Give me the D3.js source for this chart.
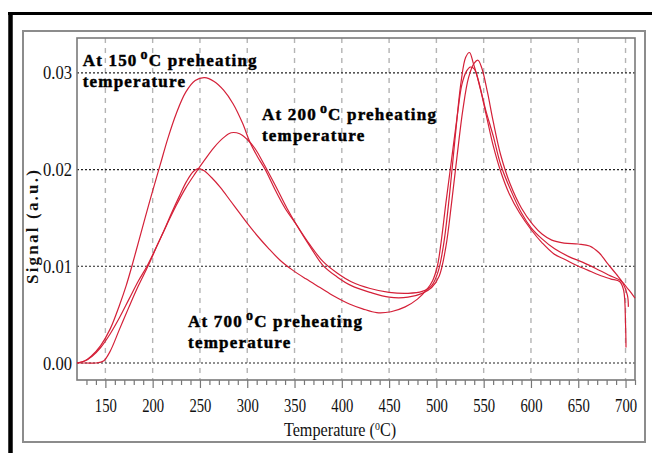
<!DOCTYPE html>
<html>
<head>
<meta charset="utf-8">
<script src="https://cdn.jsdelivr.net/npm/d3@7"></script>
<style>
  body { margin: 0; background: #fff; }
  svg { display: block; }
</style>
</head>
<body>
<div id="chart"></div>
<script>
// glow curves: temperature (°C) and signal (a.u.)
const temp150 = [120, 128, 135, 145, 155, 165, 172, 178, 185, 192, 200, 208, 216, 225, 235, 245, 255, 265, 275, 285, 295, 303, 311, 319, 330, 340, 352, 365, 380, 395, 410, 430, 450, 470, 485, 495, 502, 508, 514, 520, 526, 531, 535, 539, 545, 552, 560, 568, 578, 590, 600, 612, 625, 640, 655, 668, 682, 695, 703, 710];
const signal150 = [0, 0.0002, 0.0007, 0.0018, 0.0035, 0.0060, 0.0080, 0.0100, 0.0125, 0.0150, 0.0178, 0.0205, 0.0232, 0.0258, 0.0280, 0.0292, 0.0295, 0.0291, 0.0282, 0.0268, 0.0248, 0.0228, 0.0213, 0.0200, 0.0178, 0.0160, 0.0143, 0.0124, 0.0105, 0.0093, 0.0084, 0.0077, 0.0073, 0.0072, 0.0074, 0.0080, 0.0095, 0.0125, 0.0175, 0.0235, 0.0290, 0.0316, 0.0321, 0.0310, 0.0290, 0.0262, 0.0235, 0.0205, 0.0180, 0.0155, 0.0140, 0.0128, 0.0118, 0.0110, 0.0104, 0.0098, 0.0091, 0.0085, 0.0076, 0.0067];

const temp200 = [120, 130, 140, 148, 155, 165, 175, 185, 195, 205, 215, 225, 235, 245, 255, 265, 275, 283, 292, 300, 308, 318, 330, 342, 355, 368, 380, 395, 410, 430, 450, 470, 485, 495, 503, 510, 516, 522, 528, 534, 540, 544, 548, 554, 560, 568, 578, 590, 602, 612, 622, 635, 650, 662, 672, 680, 690, 697, 702, 703];
const signal200 = [0, 0, 0, 0.0002, 0.0012, 0.0035, 0.0058, 0.0080, 0.0100, 0.0122, 0.0143, 0.0163, 0.0181, 0.0196, 0.0210, 0.0223, 0.0233, 0.0238, 0.0237, 0.0231, 0.0222, 0.0205, 0.0183, 0.0160, 0.0138, 0.0118, 0.0101, 0.0089, 0.0080, 0.0073, 0.0068, 0.0068, 0.0072, 0.0078, 0.0090, 0.0120, 0.0165, 0.0215, 0.0262, 0.0295, 0.0310, 0.0313, 0.0305, 0.0280, 0.0250, 0.0215, 0.0185, 0.0160, 0.0143, 0.0133, 0.0127, 0.0124, 0.0123, 0.0121, 0.0114, 0.0104, 0.0092, 0.0083, 0.0070, 0.0058];

const temp700 = [120, 128, 136, 145, 155, 165, 175, 185, 194, 203, 212, 220, 228, 236, 243, 248, 254, 262, 272, 282, 292, 302, 312, 322, 335, 348, 362, 377, 392, 408, 422, 437, 452, 467, 480, 490, 496, 501, 505, 510, 516, 522, 527, 532, 536, 540, 546, 553, 560, 568, 577, 588, 600, 612, 624, 636, 648, 660, 672, 684, 694, 698, 700, 700.5];
const signal700 = [0, 0.0002, 0.0007, 0.0016, 0.0030, 0.0047, 0.0066, 0.0085, 0.0100, 0.0118, 0.0137, 0.0155, 0.0172, 0.0188, 0.0198, 0.0201, 0.0199, 0.0192, 0.0181, 0.0168, 0.0155, 0.0142, 0.0130, 0.0119, 0.0106, 0.0096, 0.0087, 0.0078, 0.0069, 0.0061, 0.0056, 0.0052, 0.0053, 0.0058, 0.0066, 0.0076, 0.0085, 0.0100, 0.0125, 0.0165, 0.0210, 0.0255, 0.0288, 0.0302, 0.0306, 0.0304, 0.0285, 0.0255, 0.0225, 0.0198, 0.0175, 0.0155, 0.0138, 0.0124, 0.0113, 0.0107, 0.0101, 0.0096, 0.0091, 0.0087, 0.0084, 0.0075, 0.0040, 0.0016];

const xTicks = [150, 200, 250, 300, 350, 400, 450, 500, 550, 600, 650, 700];
const yTicks = [0, 0.01, 0.02, 0.03];
const yTickLabels = ["0.00", "0.01", "0.02", "0.03"];
const annotations = ["150", "200", "700"];

const width = 652;
const height = 453;
const plotLeft = 77, plotRight = 635, plotTop = 38, plotBottom = 380;
const red = "#d42038";

const svg = d3.select("#chart").append("svg")
  .attr("width", width)
  .attr("height", height);

// black frame on top and left
svg.append("line").attr("x1", 8).attr("x2", width).attr("y1", 13.5).attr("y2", 13.5)
  .attr("stroke", "#000").attr("stroke-width", 3);
svg.append("line").attr("x1", 10.5).attr("x2", 10.5).attr("y1", 12).attr("y2", height)
  .attr("stroke", "#000").attr("stroke-width", 4.5);

// grey panel
svg.append("rect").attr("x", 23).attr("y", 31).attr("width", 622).attr("height", 411)
  .attr("fill", "#fff").attr("stroke", "#8c8c8c").attr("stroke-width", 2);

const x = d3.scaleLinear([120, 710], [plotLeft, plotRight]);
const y = d3.scaleLinear([-0.00176, 0.0336], [plotBottom, plotTop]);

// vertical dashed grid
svg.append("g")
  .selectAll("line")
  .data(xTicks)
  .join("line")
  .attr("x1", d => x(d)).attr("x2", d => x(d))
  .attr("y1", plotTop).attr("y2", plotBottom)
  .attr("stroke", "#b4b4b4")
  .attr("stroke-width", 1.4)
  .attr("stroke-dasharray", "5,5");

// horizontal dotted grid
svg.append("g")
  .selectAll("line")
  .data(yTicks)
  .join("line")
  .attr("x1", plotLeft).attr("x2", plotRight)
  .attr("y1", d => y(d)).attr("y2", d => y(d))
  .attr("stroke", "#222")
  .attr("stroke-width", 1.2)
  .attr("stroke-dasharray", "2,2");

// x axis: minor ticks then major ticks with labels
const minor = d3.range(130, 711, 10).filter(t => t % 50 !== 0);
svg.append("g")
  .attr("transform", `translate(0,${plotBottom})`)
  .call(d3.axisBottom(x).tickValues(minor).tickSize(5).tickFormat(""))
  .call(g => g.select(".domain").remove())
  .call(g => g.selectAll(".tick line").attr("stroke", "#777").attr("stroke-width", 1.2));

svg.append("g")
  .attr("transform", `translate(0,${plotBottom})`)
  .call(d3.axisBottom(x).tickValues(xTicks).tickSize(8).tickPadding(11).tickFormat(d3.format("d")))
  .call(g => g.select(".domain").remove())
  .call(g => g.selectAll(".tick line").attr("stroke", "#777").attr("stroke-width", 1.2))
  .call(g => g.selectAll(".tick text")
    .attr("fill", "#111")
    .attr("dy", "0.71em")
    .style("font", "19px 'Liberation Serif', serif")
    .attr("textLength", 22)
    .attr("lengthAdjust", "spacingAndGlyphs"));

// y axis labels
svg.append("g")
  .attr("transform", `translate(${plotLeft},0)`)
  .call(d3.axisLeft(y).tickValues(yTicks).tickSize(0).tickPadding(5)
    .tickFormat((d, i) => yTickLabels[i]))
  .call(g => g.select(".domain").remove())
  .call(g => g.selectAll(".tick text")
    .attr("fill", "#111")
    .style("font", "19px 'Liberation Serif', serif")
    .attr("textLength", 29)
    .attr("lengthAdjust", "spacingAndGlyphs"));

// plot frame
svg.append("rect")
  .attr("x", plotLeft).attr("y", plotTop)
  .attr("width", plotRight - plotLeft).attr("height", plotBottom - plotTop)
  .attr("fill", "none").attr("stroke", "#7a7a7a").attr("stroke-width", 1.6);

// curves
const series = [
  d3.zip(temp150, signal150),
  d3.zip(temp200, signal200),
  d3.zip(temp700, signal700)
];
const line = d3.line()
  .x(d => x(d[0]))
  .y(d => y(d[1]))
  .curve(d3.curveCatmullRom.alpha(0.5));

svg.append("g")
  .selectAll("path")
  .data(series)
  .join("path")
  .attr("d", line)
  .attr("fill", "none")
  .attr("stroke", red)
  .attr("stroke-width", 1.2);

// annotations
const notePos = [[126, 0.0307], [315.6, 0.0251], [237.4, 0.0037]];
const note = svg.append("g")
  .style("font", "bold 17px 'Liberation Serif', serif")
  .style("letter-spacing", "1.2px")
  .attr("fill", "#000")
  .attr("stroke", "#000")
  .attr("stroke-width", 0.45);

annotations.forEach((t, i) => {
  const [tx, ty] = notePos[i];
  const txt = note.append("text").attr("x", x(tx)).attr("y", y(ty));
  txt.append("tspan").text(`At ${t}`);
  txt.append("tspan").attr("dx", 3).attr("dy", -7).style("font-size", "14px").text("o");
  txt.append("tspan").attr("dy", 7).text("C preheating");
  note.append("text").attr("x", x(tx)).attr("y", y(ty) + 21).text("temperature");
});

// axis titles
const xt = svg.append("text")
  .attr("transform", "translate(340,436) scale(0.9,1)")
  .attr("text-anchor", "middle")
  .attr("fill", "#111")
  .style("font", "18px 'Liberation Serif', serif");
xt.append("tspan").text("Temperature (");
xt.append("tspan").attr("dy", -6).style("font-size", "11px").text("0");
xt.append("tspan").attr("dy", 6).text("C)");

svg.append("text")
  .attr("transform", "translate(38,226) rotate(-90)")
  .attr("text-anchor", "middle")
  .attr("fill", "#111")
  .style("font", "bold 17px 'Liberation Serif', serif")
  .style("letter-spacing", "2.2px")
  .text("Signal (a.u.)");
</script>
</body>
</html>
